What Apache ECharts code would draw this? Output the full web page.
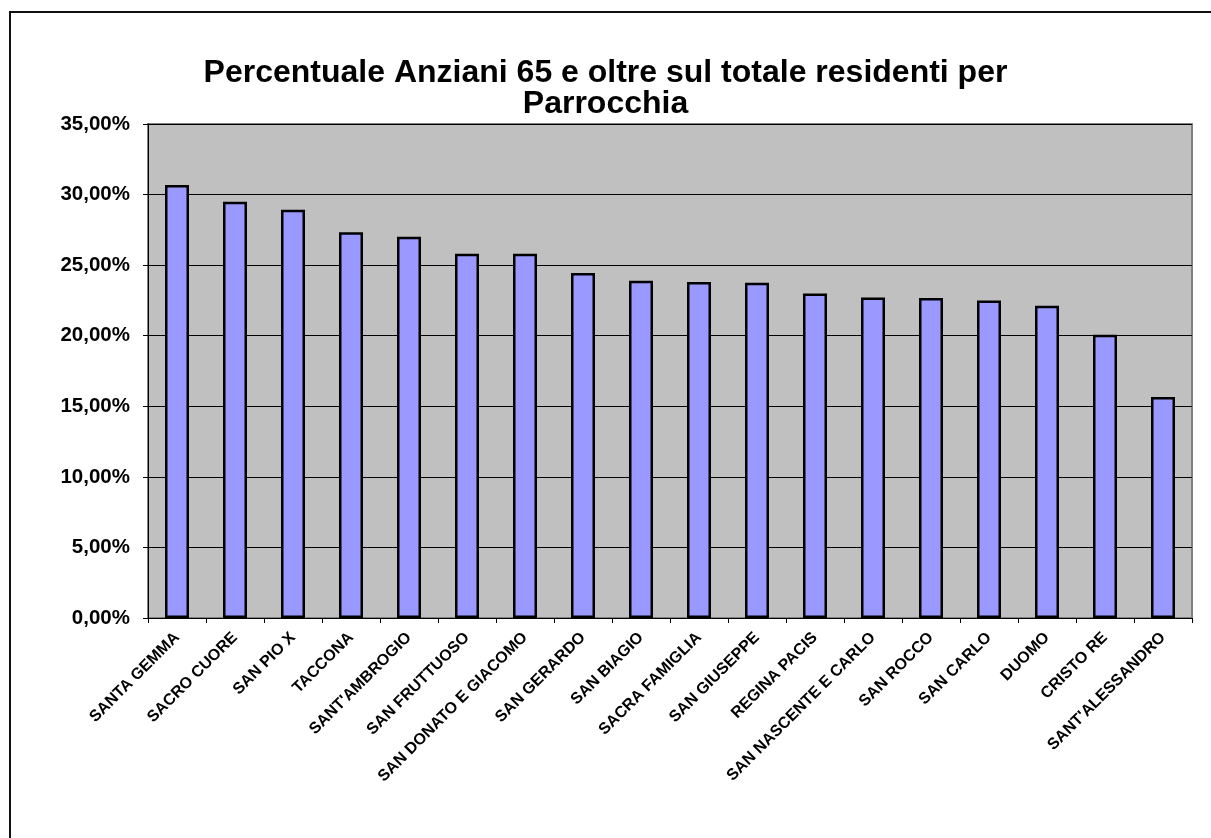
<!DOCTYPE html>
<html>
<head>
<meta charset="utf-8">
<script src="https://cdn.jsdelivr.net/npm/echarts@6/dist/echarts.min.js"></script>
<style>
  html, body { margin: 0; padding: 0; background: #fff; }
  #chart { width: 1211px; height: 838px; }
</style>
</head>
<body>
<div id="chart"></div>
<script>
// parrocchie, in ordine decrescente
var categories = ['SANTA GEMMA', 'SACRO CUORE', 'SAN PIO X', 'TACCONA', "SANT'AMBROGIO",
  'SAN FRUTTUOSO', 'SAN DONATO E GIACOMO', 'SAN GERARDO', 'SAN BIAGIO', 'SACRA FAMIGLIA',
  'SAN GIUSEPPE', 'REGINA PACIS', 'SAN NASCENTE E CARLO', 'SAN ROCCO', 'SAN CARLO',
  'DUOMO', 'CRISTO RE', "SANT'ALESSANDRO"];
// % anziani 65+ sul totale residenti
var values = [30.68, 29.49, 28.93, 27.33, 27.01, 25.80, 25.80, 24.44, 23.89, 23.80,
  23.76, 22.99, 22.71, 22.67, 22.50, 22.12, 20.07, 15.65];
var titleText = 'Percentuale Anziani 65 e oltre sul totale residenti per\nParrocchia';

var font = '"Liberation Sans", Arial, sans-serif';

var option = {
  backgroundColor: '#fff',
  animation: false,
  title: {
    text: titleText,
    left: 'center',
    top: 53,
    textStyle: {
      fontFamily: font,
      fontWeight: 'bold',
      fontSize: 32,
      lineHeight: 31,
      color: '#000'
    }
  },
  graphic: [{
    type: 'rect',
    shape: { x: 10, y: 12, width: 1260, height: 900 },
    style: { fill: 'none', stroke: '#111', lineWidth: 2 },
    silent: true
  }],
  grid: {
    left: 148,
    right: 19,
    top: 124,
    bottom: 220,
    show: true,
    backgroundColor: '#C0C0C0',
    borderColor: '#808080',
    borderWidth: 2
  },
  xAxis: {
    type: 'category',
    data: categories,
    boundaryGap: true,
    axisLine: { lineStyle: { color: '#000', width: 1 } },
    axisTick: { show: true, length: 5, lineStyle: { color: '#000' } },
    axisLabel: {
      interval: 0,
      rotate: 45,
      margin: 17,
      align: 'right',
      verticalAlign: 'middle',
      fontFamily: font,
      fontWeight: 'bold',
      fontSize: 16,
      color: '#000'
    }
  },
  yAxis: {
    type: 'value',
    min: 0,
    max: 35,
    interval: 5,
    axisLine: { show: true, lineStyle: { color: '#000', width: 1 } },
    axisTick: { show: true, length: 5, lineStyle: { color: '#000' } },
    splitLine: { show: true, lineStyle: { color: '#000', width: 1 } },
    axisLabel: {
      margin: 18,
      fontFamily: font,
      fontWeight: 'bold',
      fontSize: 20.5,
      color: '#000',
      formatter: function (v) { return v.toFixed(2).replace('.', ',') + '%'; }
    }
  },
  series: [{
    type: 'bar',
    data: values,
    barWidth: 24,
    itemStyle: {
      color: '#9999FF',
      borderColor: '#000',
      borderWidth: 2.5
    }
  }]
};

var chart = echarts.init(document.getElementById('chart'));
chart.setOption(option);
</script>
</body>
</html>
